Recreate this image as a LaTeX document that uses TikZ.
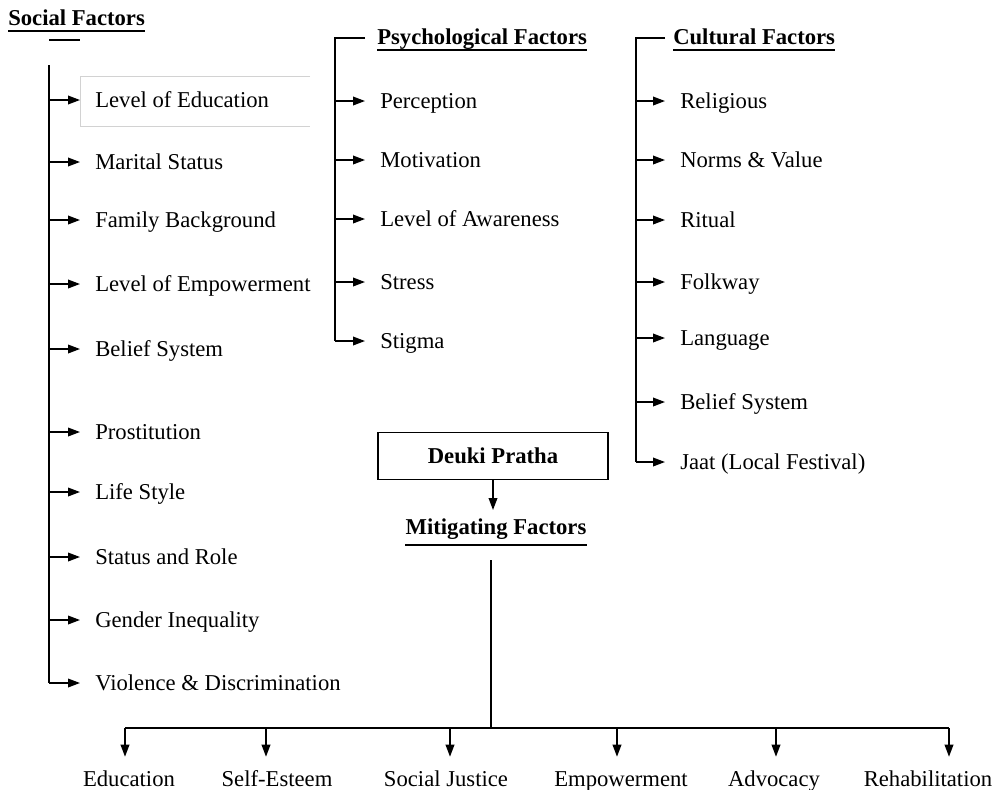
\documentclass[tikz,border=0pt]{standalone}
\usepackage{fontspec}
\setmainfont{Liberation Serif}
\usetikzlibrary{arrows.meta}

\begin{document}
\begin{tikzpicture}[x=0.75pt,y=-0.75pt]
        \tikzstyle{every node} = [font=\fontsize{17}{20}\selectfont]
        \tikzstyle{line} = [line width=1.1pt]
        \tikzstyle{arr} = [line,-{Triangle[length=9pt,width=6.5pt]}]
        \tikzstyle{item} = [anchor=west,inner xsep=11.25pt,inner ysep=0pt,text height=10.5pt,text depth=0pt]
        \tikzstyle{head} = [font=\fontsize{17}{20}\selectfont\bfseries,anchor=base west,inner sep=0pt]
        \tikzstyle{goal} = [anchor=base,inner sep=0pt,text height=12pt,text depth=0pt]
        \useasboundingbox (0,0) rectangle (1001,790);

            % social factors
            \begin{scope}
                \node[head] (soc) at (8,25) {Social Factors};
                \draw[line] (49,40) -- (80,40);
                \draw[gray!35,line width=0.6pt] (310,76) -- (80,76) -- (80,126) -- (310,126);
                \coordinate (stop) at (49,65);
                \foreach \y/\t [count=\i] in {100/Level of Education,162/Marital Status,220/Family Background,
                    284/Level of Empowerment,349/Belief System,432/Prostitution,492/Life Style,
                    557/Status and Role,620/Gender Inequality,683/Violence \& Discrimination}{
                    \node[item] (s\i) at (80,\y) {\t};
                    \draw[arr] (49,\y) -- (s\i.west);
                }
                \draw[line] (stop) -- (stop |- s10.west);
            \end{scope}

            % psychological factors
            \begin{scope}
                \node[head] (psy) at (377,44) {Psychological Factors};
                \coordinate (ptop) at (335,38);
                \foreach \y/\t [count=\i] in {101/Perception,160/Motivation,219/Level of Awareness,
                    282/Stress,341/Stigma}{
                    \node[item] (p\i) at (365,\y) {\t};
                    \draw[arr] (335,\y) -- (p\i.west);
                }
                \draw[line] (365,38) -- (ptop) -- (ptop |- p5.west);
            \end{scope}

            % cultural factors
            \begin{scope}
                \node[head] (cul) at (673,44) {Cultural Factors};
                \coordinate (ctop) at (636,38);
                \foreach \y/\t [count=\i] in {101/Religious,160/Norms \& Value,220/Ritual,282/Folkway,
                    338/Language,402/Belief System,462/Jaat (Local Festival)}{
                    \node[item] (c\i) at (665,\y) {\t};
                    \draw[arr] (636,\y) -- (c\i.west);
                }
                \draw[line] (665,38) -- (ctop) -- (ctop |- c7.west);
            \end{scope}

            % deuki pratha and mitigating factors
            \node[draw,line width=1.1pt,minimum width=172.5pt,minimum height=35pt,font=\fontsize{17}{20}\selectfont\bfseries] (dp) at (493,456) {Deuki Pratha};
            \node[head,anchor=base] (mit) at (496,534) {Mitigating Factors};
            \draw[arr] (dp.south) -- ([yshift=6pt]dp.south |- mit.north);

            \foreach \n/\d in {soc/4.5pt,psy/4.5pt,cul/4.5pt,mit/8pt}
                \draw[line width=1.5pt] ([yshift=-\d]\n.base west) -- ([yshift=-\d]\n.base east);

            \coordinate (btop) at (491,560);
            \coordinate (bmid) at (491,728);
            \draw[line] (btop) -- (bmid);
            \foreach \x/\c/\t [count=\i] in {125/129/Education,266/277/Self-Esteem,450/446/Social Justice,
                617/621/Empowerment,776/774/Advocacy,949/928/Rehabilitation}{
                \coordinate (b\i) at (\x,728);
                \node[goal] (g\i) at (\c,786) {\t};
                \draw[arr] (b\i) -- ([yshift=9.75pt]b\i |- g\i.north);
            }
            \draw[line] (b1) -- (b6);
\end{tikzpicture}
\end{document}
